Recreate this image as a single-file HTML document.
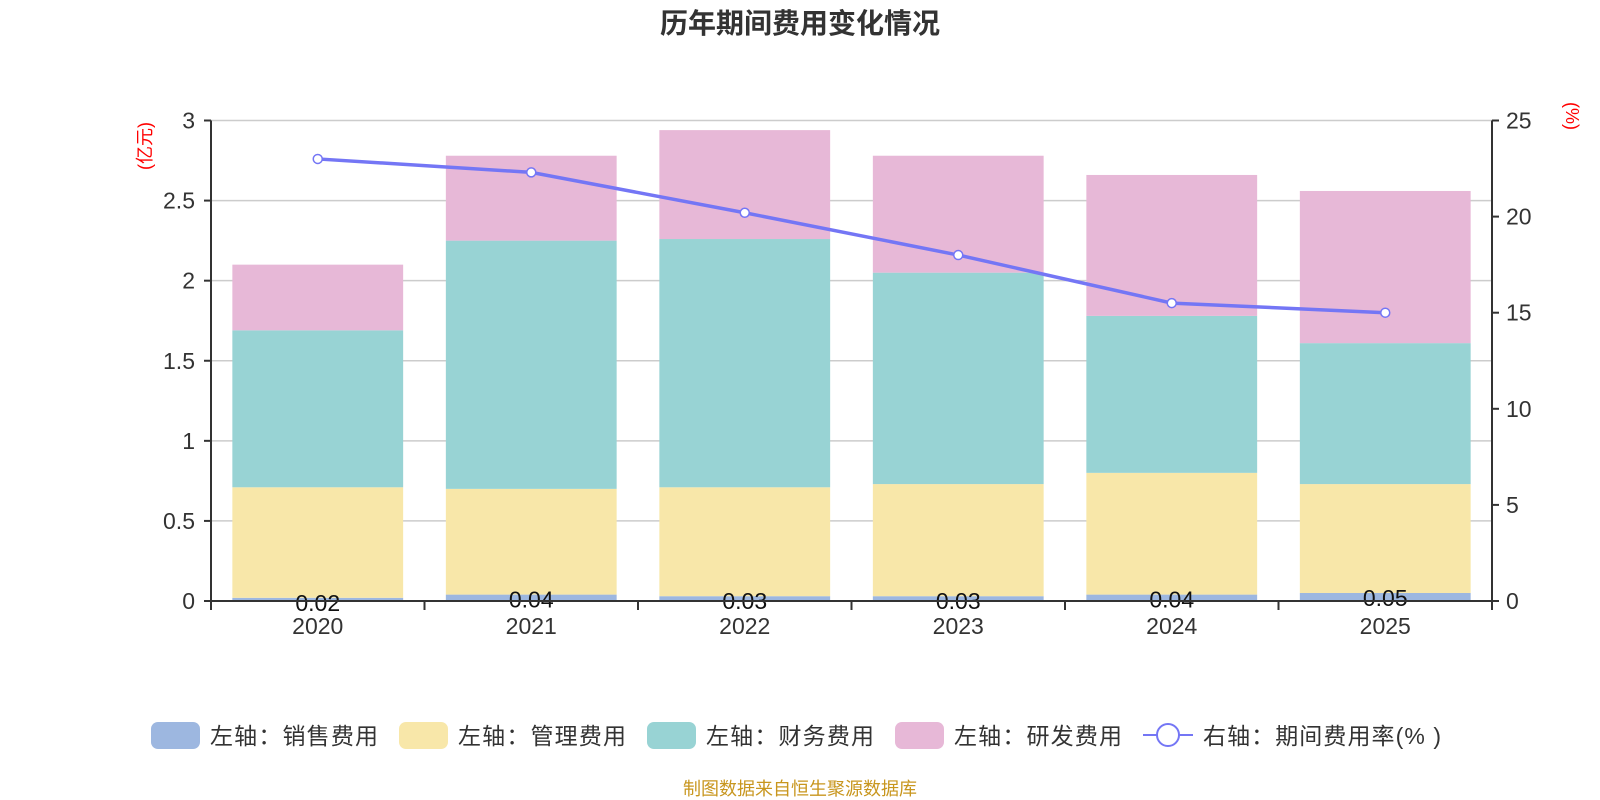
<!DOCTYPE html>
<html><head><meta charset="utf-8"><style>
body{margin:0;background:#fff;}
svg{display:block;font-family:"Liberation Sans","Noto Sans CJK SC",sans-serif;}
</style></head><body>
<svg id="chart" width="1600" height="800" viewBox="0 0 1600 800">
<text x="800" y="33" text-anchor="middle" font-size="28" font-weight="bold" fill="#333">历年期间费用变化情况</text>
<g id="grid"></g><g id="bars"></g><g id="axes"></g><g id="line"></g>
<text transform="translate(151,146) rotate(-90)" text-anchor="middle" font-size="18" fill="#f00">(亿元)</text>
<text transform="translate(1566,116) rotate(90)" text-anchor="middle" font-size="18" fill="#f00">(%)</text>
<g id="legend" font-size="23" fill="#333">
<rect x="151" y="722" width="49" height="27" rx="7" fill="#9db7e0"/>
<text x="210" y="744" textLength="168">左轴：销售费用</text>
<rect x="399" y="722" width="49" height="27" rx="7" fill="#f8e7a9"/>
<text x="458" y="744" textLength="168">左轴：管理费用</text>
<rect x="647" y="722" width="49" height="27" rx="7" fill="#98d3d4"/>
<text x="706" y="744" textLength="168">左轴：财务费用</text>
<rect x="895" y="722" width="49" height="27" rx="7" fill="#e7b8d7"/>
<text x="954" y="744" textLength="168">左轴：研发费用</text>
<line x1="1143" y1="735" x2="1193" y2="735" stroke="#7476f5" stroke-width="2"/>
<circle cx="1168" cy="735" r="11" fill="#fff" stroke="#7476f5" stroke-width="2"/>
<text x="1203" y="744" textLength="238">右轴：期间费用率(% )</text>
</g>
<text x="800" y="795" text-anchor="middle" font-size="18" fill="#c8961e">制图数据来自恒生聚源数据库</text>
</svg>
<script>
const categories=["2020","2021","2022","2023","2024","2025"];
const sales=[0.02,0.04,0.03,0.03,0.04,0.05];
const admin=[0.69,0.66,0.68,0.70,0.76,0.68];
const finance=[0.98,1.55,1.55,1.32,0.98,0.88];
const rd=[0.41,0.53,0.68,0.73,0.88,0.95];
const rate=[23.0,22.3,20.2,18.0,15.5,15.0];
const leftTicks=[0,0.5,1,1.5,2,2.5,3];
const rightTicks=[0,5,10,15,20,25];
const NS="http://www.w3.org/2000/svg";
const X0=211,X1=1492,Y0=601,Y1=120.5;
const band=(X1-X0)/categories.length;
const xc=i=>X0+band*(i+0.5);
const yL=v=>Y0-(v/3)*(Y0-Y1);
const yR=v=>Y0-(v/25)*(Y0-Y1);
function mk(tag,attrs,parent){const e=document.createElementNS(NS,tag);for(const k in attrs)e.setAttribute(k,attrs[k]);parent.appendChild(e);return e;}
const grid=document.getElementById('grid'),bars=document.getElementById('bars'),axes=document.getElementById('axes'),line=document.getElementById('line');
leftTicks.forEach(t=>{
 if(t>0){const g=mk('line',{x1:X0,x2:X1,y1:yL(t),y2:yL(t),stroke:'#ccc','stroke-width':1.5},grid);
 
 }
 const tk=mk('line',{x1:X0-7,x2:X0,y1:yL(t),y2:yL(t),stroke:'#333','stroke-width':2},axes);
 
 
 const tx=mk('text',{x:X0-16,y:yL(t)+8,'text-anchor':'end','font-size':23,fill:'#333'},axes);
 tx.textContent=t;
 
 
});
rightTicks.forEach(t=>{
 const tk=mk('line',{x1:X1,x2:X1+7,y1:yR(t),y2:yR(t),stroke:'#333','stroke-width':2},axes);
 
 
 const tx=mk('text',{x:X1+14,y:yR(t)+8,'font-size':23,fill:'#333'},axes);
 tx.textContent=t;
 
 
});
const series=[[sales,'#9db7e0','sales'],[admin,'#f8e7a9','admin'],[finance,'#98d3d4','finance'],[rd,'#e7b8d7','rd']];
const bw=band*0.8;
categories.forEach((c,i)=>{
 let acc=0;
 series.forEach(([arr,col,nm])=>{
  const y1=yL(acc+arr[i]),y0=yL(acc);
  const r=mk('rect',{x:xc(i)-bw/2,y:y1,width:bw,height:y0-y1,fill:col},bars);
  
  
  acc+=arr[i];
 });
 const lb=mk('text',{x:xc(i),y:yL(sales[i])+13,'text-anchor':'middle','font-size':23,fill:'#111'},bars);
 lb.textContent=sales[i].toFixed(2);
 
 
 const xt=mk('text',{x:xc(i),y:Y0+33,'text-anchor':'middle','font-size':23,fill:'#333'},axes);
 xt.textContent=c;
 
 
});
for(let i=0;i<=categories.length;i++){
 const t=mk('line',{x1:X0+band*i,x2:X0+band*i,y1:Y0,y2:Y0+9,stroke:'#333','stroke-width':2},axes);
 
 
}
const xa=mk('line',{x1:X0,x2:X1,y1:Y0,y2:Y0,stroke:'#333','stroke-width':2},axes);


const la=mk('line',{x1:X0,x2:X0,y1:Y1,y2:Y0,stroke:'#333','stroke-width':2},axes);


const ra=mk('line',{x1:X1,x2:X1,y1:Y1,y2:Y0,stroke:'#333','stroke-width':2},axes);


const pl=mk('polyline',{points:rate.map((v,i)=>xc(i)+','+yR(v)).join(' '),fill:'none',stroke:'#7476f5','stroke-width':3.5},line);


rate.forEach((v,i)=>{
 const p=mk('circle',{cx:xc(i),cy:yR(v),r:4.5,fill:'#fff',stroke:'#7476f5','stroke-width':1.5},line);
 
 
});
</script>
</body></html>
